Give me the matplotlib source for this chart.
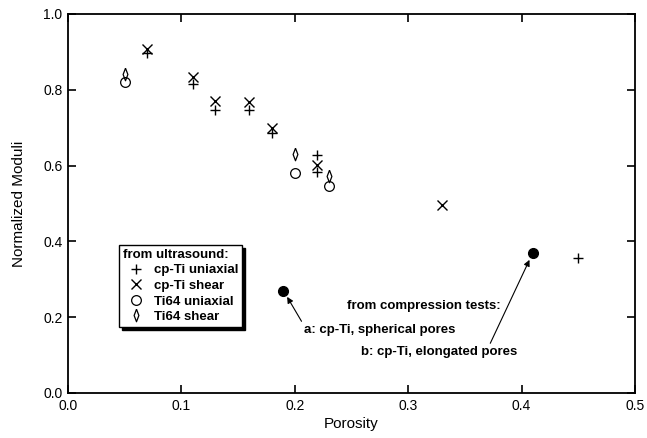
import matplotlib
matplotlib.use("Agg")
import matplotlib.pyplot as plt
from matplotlib.ticker import MultipleLocator

plt.rcParams['font.family'] = ['Liberation Sans', 'DejaVu Sans']

# Data (porosity, normalized modulus)
cpti_uni_x = [0.07, 0.11, 0.13, 0.16, 0.18, 0.22, 0.22, 0.45]
cpti_uni_y = [0.898, 0.815, 0.748, 0.747, 0.687, 0.628, 0.584, 0.357]
cpti_shear_x = [0.07, 0.11, 0.13, 0.16, 0.18, 0.22, 0.33]
cpti_shear_y = [0.907, 0.833, 0.771, 0.769, 0.700, 0.602, 0.497]
ti64_uni_x = [0.05, 0.20, 0.23]
ti64_uni_y = [0.821, 0.580, 0.546]
ti64_shear_x = [0.05, 0.20, 0.23]
ti64_shear_y = [0.843, 0.631, 0.573]
comp_x = [0.19, 0.41]
comp_y = [0.270, 0.370]
comp_labels = ["a: cp-Ti, spherical pores", "b: cp-Ti, elongated pores"]

fig = plt.figure(figsize=(6.47, 4.38), dpi=100)
ax = fig.add_axes([68/647, 45/438, (635-68)/647, (393-14)/438])

diamond = [(0, 1), (0.38, 0), (0, -1), (-0.38, 0), (0, 1)]

ax.plot(cpti_uni_x, cpti_uni_y, ls='none', marker='+', ms=7.5, mew=1.0,
        color='black', label='cp-Ti uniaxial')
ax.plot(cpti_shear_x, cpti_shear_y, ls='none', marker='x', ms=6.5, mew=1.0,
        color='black', label='cp-Ti shear')
ax.plot(ti64_uni_x, ti64_uni_y, ls='none', marker='o', ms=7, mew=0.9,
        mfc='none', color='black', label='Ti64 uniaxial')
ax.plot(ti64_shear_x, ti64_shear_y, ls='none', marker=diamond, ms=9, mew=0.9,
        mfc='none', color='black', label='Ti64 shear')
ax.plot(comp_x, comp_y, ls='none', marker='o', ms=7, color='black')

ax.set_xlim(0, 0.5)
ax.set_ylim(0, 1.0)
ax.xaxis.set_major_locator(MultipleLocator(0.1))
ax.yaxis.set_major_locator(MultipleLocator(0.2))
ax.xaxis.set_major_formatter(matplotlib.ticker.FormatStrFormatter('%.1f'))
ax.yaxis.set_major_formatter(matplotlib.ticker.FormatStrFormatter('%.1f'))
ax.tick_params(direction='in', top=True, right=True, length=6, width=1.2,
               labelsize=10, pad=4)
for s in ax.spines.values():
    s.set_linewidth(1.3)

ax.set_xlabel('Porosity', fontsize=11, labelpad=3)
ax.set_ylabel('Normalized Moduli', fontsize=11, labelpad=12)

leg = ax.legend(title='from ultrasound:', loc='lower left',
                bbox_to_anchor=(0.09, 0.174), borderaxespad=0,
                frameon=True, fancybox=False, edgecolor='black',
                shadow={'color': 'black', 'alpha': 1, 'ox': 2, 'oy': -2},
                handlelength=2.0, handletextpad=0.35, labelspacing=0.25,
                borderpad=0.3, fontsize=9.5, title_fontsize=9.5,
                alignment='left')
leg.get_frame().set_linewidth(1.0)
leg.get_title().set_fontweight('bold')
for t in leg.get_texts():
    t.set_fontweight('bold')

ax.text(0.246, 0.23, 'from compression tests:', fontsize=9.5,
        fontweight='bold', va='center', ha='left')
ax.annotate(comp_labels[0], xy=(comp_x[0] + 0.002, comp_y[0] - 0.01),
            xytext=(0.208, 0.166), fontsize=9.5, fontweight='bold',
            va='center', ha='left',
            arrowprops=dict(arrowstyle='-|>', color='black', lw=0.8,
                            shrinkA=0, shrinkB=2, mutation_scale=9,
                            relpos=(0.0, 0.9)))
ax.annotate(comp_labels[1], xy=(comp_x[1] - 0.002, comp_y[1] - 0.012),
            xytext=(0.258, 0.108), fontsize=9.5, fontweight='bold',
            va='center', ha='left',
            arrowprops=dict(arrowstyle='-|>', color='black', lw=0.8,
                            shrinkA=0, shrinkB=2, mutation_scale=9,
                            relpos=(0.82, 0.95)))

fig.savefig('out.png', dpi=100)
